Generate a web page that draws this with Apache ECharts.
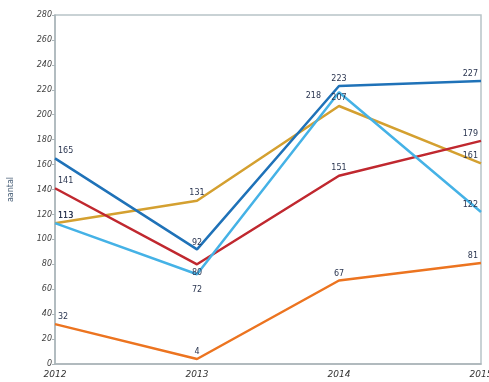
<!DOCTYPE html>
<html><head><meta charset="utf-8">
<script src="https://cdn.jsdelivr.net/npm/echarts@6/dist/echarts.min.js"></script>
<style>html,body{margin:0;padding:0;background:#fff}#c{width:489px;height:382px}</style>
</head><body><div id="c"></div>
<script>
const categories = ['2012', '2013', '2014', '2015'];
const yTicks = [0, 20, 40, 60, 80, 100, 120, 140, 160, 180, 200, 220, 240, 260, 280];
const darkBlue = [165, 92, 223, 227];
const lightBlue = [113, 72, 218, 122];
const red = [141, 80, 151, 179];
const gold = [113, 131, 207, 161];
const orange = [32, 4, 67, 81];

const baseLabel = {show: true, fontSize: 8, color: '#2a3550', fontFamily: 'DejaVu Sans'};
const FIRST = {position: [3, -11], align: 'left'};
const LAST = {position: [-3, -11], align: 'right'};
function mk(name, values, color, midLabels) {
  const data = values.map((v, i) => {
    let lab;
    if (i === 0) lab = FIRST;
    else if (i === values.length - 1) lab = LAST;
    else lab = midLabels[i - 1];
    return {value: v, label: Object.assign({}, baseLabel, lab)};
  });
  return {
    name, type: 'line', data, symbol: 'circle', symbolSize: 0, showSymbol: true, smooth: false,
    lineStyle: {width: 2.5, color}, itemStyle: {color}
  };
}
const chart = echarts.init(document.getElementById('c'));
chart.setOption({
  animation: false,
  grid: {left: 55, right: 8, top: 15, bottom: 18, outerBoundsMode: 'none', containLabel: false,
    show: true, borderColor: '#b8c4c8', borderWidth: 1.5},
  xAxis: {
    type: 'category', data: categories, boundaryGap: false,
    axisLine: {lineStyle: {color: '#aab4b8', width: 1.5}}, axisTick: {show: false},
    axisLabel: {fontSize: 9, color: '#333', fontStyle: 'italic', margin: 6, fontFamily: 'DejaVu Sans'}
  },
  yAxis: {
    type: 'value', min: 0, max: 280, interval: 20,
    name: 'aantal', nameLocation: 'middle', nameGap: 40, nameRotate: 90,
    nameTextStyle: {fontSize: 8, color: '#4a6078', fontFamily: 'DejaVu Sans'},
    axisLine: {show: true, lineStyle: {color: '#aab4b8', width: 1.5}},
    axisTick: {show: true, length: 3, lineStyle: {color: '#aab4b8'}},
    splitLine: {show: false},
    axisLabel: {fontSize: 8, color: '#444', fontStyle: 'italic', margin: 3, fontFamily: 'DejaVu Sans',
      formatter: v => yTicks.includes(v) ? String(v) : ''}
  },
  series: [
    mk('gold', gold, '#d4a030', [{position: 'top', distance: 4}, {position: 'top', distance: 4}]),
    mk('red', red, '#c0282f', [{position: 'bottom', distance: 5}, {position: 'top', distance: 4}]),
    mk('orange', orange, '#ec7420', [{position: 'top', distance: 3}, {position: 'top', distance: 3}]),
    mk('lightBlue', lightBlue, '#45b2e6', [{position: 'bottom', distance: 12}, {position: [-18, 0], align: 'right'}]),
    mk('darkBlue', darkBlue, '#1f72b8', [{position: 'top', distance: 2}, {position: 'top', distance: 3}])
  ]
});
</script></body></html>
